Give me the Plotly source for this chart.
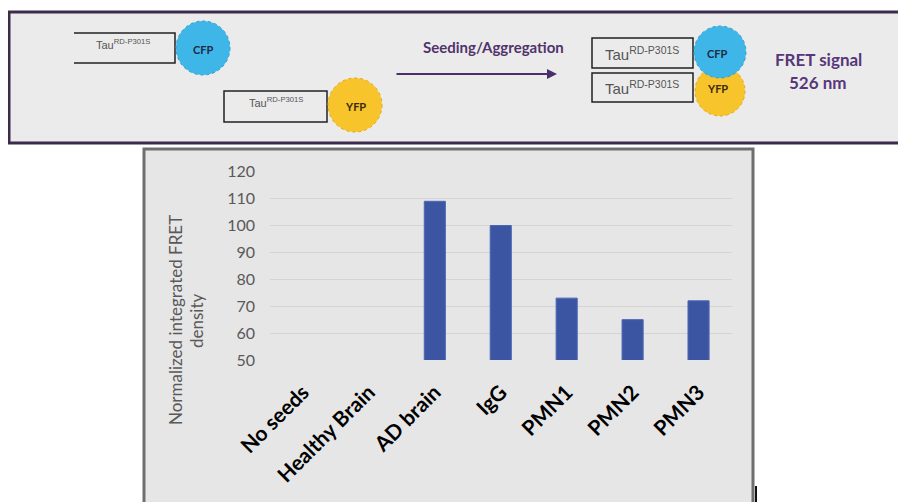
import plotly.graph_objects as go

# ---- data ----
categories = ["No seeds", "Healthy Brain", "AD brain", "IgG", "PMN1", "PMN2", "PMN3"]
fret_values = [None, None, 109, 100, 73, 65, 72]
y_ticks = [50, 60, 70, 80, 90, 100, 110, 120]
y_title_lines = ["Normalized integrated FRET", "density"]

W, H = 906, 502
OFF = 8  # page body margin


def px(x):
    return (x - OFF) / W


def py(y):
    return 1 - (y - OFF) / H


fig = go.Figure()
fig.add_trace(go.Bar(
    x=categories, y=fret_values,
    marker=dict(color="#3b55a3", line=dict(color="#4c66b4", width=1)),
    showlegend=False,
))

shapes = []
annotations = []

# banner
shapes.append(dict(type="rect", xref="paper", yref="paper",
                   x0=px(9), x1=px(925), y0=py(12), y1=py(143),
                   fillcolor="#ebebeb", line=dict(color="#3d2b4e", width=3), layer="below"))
# chart panel
shapes.append(dict(type="rect", xref="paper", yref="paper",
                   x0=px(144), x1=px(753), y0=py(149), y1=py(530),
                   fillcolor="#e6e6e6", line=dict(color="#6e6e6e", width=3), layer="below"))
shapes.append(dict(type="line", xref="paper", yref="paper",
                   x0=px(756), x1=px(756), y0=py(486), y1=py(510),
                   line=dict(color="#111111", width=2)))


def box(x0, x1, y0, y1, open_left=False):
    if open_left:
        path = (f"M {px(x0)},{py(y0)} L {px(x1)},{py(y0)} L {px(x1)},{py(y1)} "
                f"L {px(x0)},{py(y1)}")
        shapes.append(dict(type="path", xref="paper", yref="paper", path=path,
                           line=dict(color="#222222", width=1.5)))
    else:
        shapes.append(dict(type="rect", xref="paper", yref="paper",
                           x0=px(x0), x1=px(x1), y0=py(y0), y1=py(y1),
                           line=dict(color="#222222", width=1.5)))


def circle(cx, cy, r, fill, edge):
    shapes.append(dict(type="circle", xref="paper", yref="paper",
                       x0=px(cx - r), x1=px(cx + r), y0=py(cy - r), y1=py(cy + r),
                       fillcolor=fill, line=dict(color=edge, width=1, dash="dot")))


def text(x, y, t, size, color, bold=False, family="Lato", angle=0):
    annotations.append(dict(xref="paper", yref="paper", x=px(x), y=py(y), text=t,
                            showarrow=False, xanchor="center", yanchor="middle",
                            textangle=angle,
                            font=dict(size=size, color=color,
                                      family=family, weight="bold" if bold else "normal")))


CFP = "#3fb6e8"
YFP = "#f8c42c"

# left molecules
box(74, 175, 33, 63, open_left=True)
circle(203, 48, 27, CFP, "#2a9fd0")
text(124, 44, "Tau<sup>RD-P301S</sup>", 11, "#555555", family="Liberation Sans")
text(203, 49, "CFP", 11, "#1d2a45", bold=True)

box(224, 327, 91, 122)
circle(355, 105, 27, YFP, "#e0a814")
text(276, 102, "Tau<sup>RD-P301S</sup>", 11, "#555555", family="Liberation Sans")
text(355, 106, "YFP", 11, "#3a2a10", bold=True)

# arrow + label
text(494, 47, "Seeding/Aggregation", 15, "#51336b", bold=True)
annotations.append(dict(xref="paper", yref="paper", x=px(557), y=py(74),
                        ax=-162, ay=0, axref="pixel", ayref="pixel", text="",
                        showarrow=True, arrowhead=2, arrowsize=1, arrowwidth=2,
                        arrowcolor="#4a2f6b"))

# right aggregated molecules
box(592, 693, 38, 68)
box(592, 693, 73, 102)
circle(720, 91, 25, YFP, "#e0a814")
circle(720, 52, 26, CFP, "#2a9fd0")
text(642, 53, "Tau<sup>RD-P301S</sup>", 15, "#555555", family="Liberation Sans")
text(642, 88, "Tau<sup>RD-P301S</sup>", 15, "#555555", family="Liberation Sans")
text(717, 53, "CFP", 11, "#1d2a45", bold=True)
text(717, 89, "YFP", 11, "#3a2a10", bold=True)

text(818, 59, "FRET signal", 17, "#57377a", bold=True)
text(818, 83, "526 nm", 17, "#57377a", bold=True)

# y-axis title (two rotated lines)
text(175, 320, y_title_lines[0], 17, "#595959", angle=-90)
text(196, 321, y_title_lines[1], 17, "#595959", angle=-90)

fig.update_layout(
    width=W, height=H,
    margin=dict(l=0, r=0, t=0, b=0, autoexpand=False),
    paper_bgcolor="white",
    plot_bgcolor="rgba(0,0,0,0)",
    bargap=0.68,
    shapes=shapes,
    annotations=annotations,
    xaxis=dict(domain=[px(270), px(731.5)], showgrid=False, zeroline=False,
               showline=False, tickangle=-45, ticks="", automargin=False,
               ticklabelstandoff=15,
               tickfont=dict(family="Lato", size=21, color="#000000", weight="bold")),
    yaxis=dict(domain=[py(360), py(171.7)], range=[50, 120], tickvals=y_ticks,
               showgrid=True, gridcolor="#d4d4d4", gridwidth=1, zeroline=False,
               showline=False, ticks="", ticklabelstandoff=14, automargin=False,
               tickfont=dict(family="Lato", size=16, color="#595959")),
)

fig.write_html("out.html")
